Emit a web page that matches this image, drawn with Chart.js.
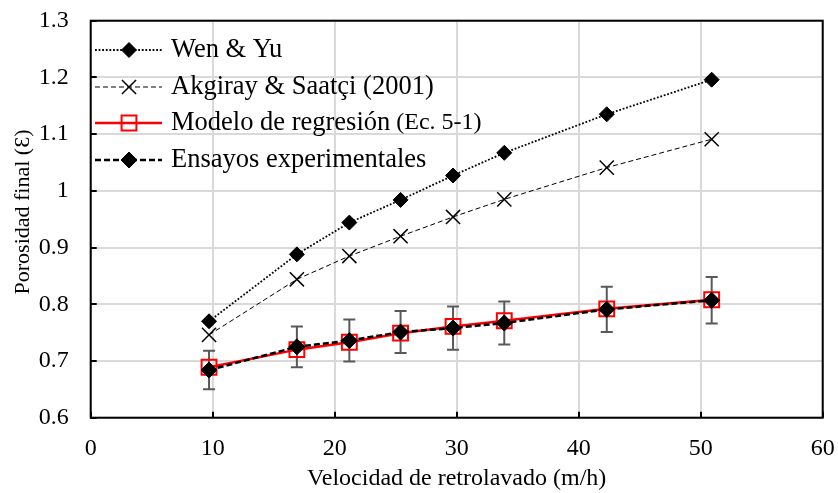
<!DOCTYPE html>
<html><head><meta charset="utf-8">
<script src="https://cdn.jsdelivr.net/npm/chart.js@4.4.0/dist/chart.umd.min.js"></script>
<style>html,body{margin:0;padding:0;background:#fff}canvas{display:block}</style>
</head><body>
<canvas id="c" width="838" height="493"></canvas>
<script>
const velocidad = [9.7, 16.9, 21.2, 25.4, 29.7, 33.9, 42.3, 50.9];
const wenYu = [0.770, 0.888, 0.944, 0.984, 1.027, 1.067, 1.135, 1.196];
const akgiray = [0.746, 0.844, 0.885, 0.920, 0.954, 0.985, 1.041, 1.091];
const modelo = [0.689, 0.720, 0.733, 0.749, 0.761, 0.771, 0.792, 0.808];
const ensayos = [0.684, 0.725, 0.736, 0.751, 0.758, 0.767, 0.791, 0.807];
const ensayosError = [0.034, 0.036, 0.037, 0.037, 0.038, 0.038, 0.040, 0.041];
const xTicks = [0, 10, 20, 30, 40, 50, 60];
const yTicks = [0.6, 0.7, 0.8, 0.9, 1.0, 1.1, 1.2, 1.3];
const legendLabels = ['Wen & Yu', 'Akgiray & Saatçi (2001)', 'Modelo de regresión', 'Ensayos experimentales'];
const legendSuffix = ['', '', ' (Ec. 5-1)', ''];
const xTitle = 'Velocidad de retrolavado (m/h)';
const yTitle = 'Porosidad final (Ɛ)';

const SERIF = '"Liberation Serif", "Times New Roman", serif';
const pts = a => a.map((v, i) => ({x: velocidad[i], y: v}));

const seriesStyles = [
  {data: wenYu, borderColor: '#000', borderWidth: 1.8, borderDash: [1.8, 1.8], pointStyle: 'rectRot', pointRadius: 7.5, pointBackgroundColor: '#000', pointBorderColor: '#000', pointBorderWidth: 1, order: 2},
  {data: akgiray, borderColor: '#000', borderWidth: 1, borderDash: [5, 3], pointStyle: 'crossRot', pointRadius: 10, pointBackgroundColor: '#000', pointBorderColor: '#000', pointBorderWidth: 1.5, order: 3},
  {data: modelo, borderColor: '#ff0000', borderWidth: 2.5, borderDash: [], pointStyle: 'rect', pointRadius: 10.5, pointBackgroundColor: 'rgba(255,255,255,0)', pointBorderColor: '#ff0000', pointBorderWidth: 2, order: 1},
  {data: ensayos, borderColor: '#000', borderWidth: 2.5, borderDash: [6, 3], pointStyle: 'rectRot', pointRadius: 8, pointBackgroundColor: '#000', pointBorderColor: '#000', pointBorderWidth: 1, order: 0}
];

const datasets = seriesStyles.map((s, i) => Object.assign({}, s, {
  label: legendLabels[i] + legendSuffix[i],
  data: pts(s.data),
  showLine: true,
  fill: false,
  tension: 0,
  pointHoverRadius: s.pointRadius
}));

const decorPlugin = {
  id: 'decor',
  beforeDatasetsDraw(chart) {
    const {ctx, scales: {x, y}} = chart;
    ctx.save();
    ctx.strokeStyle = '#595959';
    ctx.lineWidth = 2;
    ensayos.forEach((v, i) => {
      const px = x.getPixelForValue(velocidad[i]);
      const top = y.getPixelForValue(v + ensayosError[i]);
      const bot = y.getPixelForValue(v - ensayosError[i]);
      ctx.beginPath();
      ctx.moveTo(px, top); ctx.lineTo(px, bot);
      ctx.moveTo(px - 6, top); ctx.lineTo(px + 6, top);
      ctx.moveTo(px - 6, bot); ctx.lineTo(px + 6, bot);
      ctx.stroke();
    });
    ctx.restore();
  },
  afterDraw(chart) {
    const {ctx, chartArea: a, scales: {x, y}} = chart;
    ctx.save();
    ctx.strokeStyle = '#000';
    ctx.lineWidth = 2;
    ctx.strokeRect(a.left, a.top, a.right - a.left, a.bottom - a.top);
    ctx.beginPath();
    yTicks.forEach(v => { const py = Math.round(y.getPixelForValue(v)); ctx.moveTo(a.left, py); ctx.lineTo(a.left + 6, py); });
    xTicks.forEach(v => { const px = Math.round(x.getPixelForValue(v)); ctx.moveTo(px, a.bottom); ctx.lineTo(px, a.bottom - 6); });
    ctx.stroke();

    // y axis title
    ctx.save();
    ctx.translate(23, 212);
    ctx.rotate(-Math.PI / 2);
    ctx.fillStyle = '#000';
    ctx.textAlign = 'center';
    ctx.textBaseline = 'middle';
    ctx.font = '22px ' + SERIF;
    ctx.fillText(yTitle, 0, 0);
    ctx.restore();

    // legend
    const rows = [50, 87, 123, 160];
    const x0 = 95, x1 = 162, xm = 129, xt = 171;
    rows.forEach((ry, i) => {
      const ds = chart.data.datasets[i];
      ctx.save();
      ctx.strokeStyle = ds.borderColor;
      ctx.lineWidth = ds.borderWidth;
      ctx.setLineDash(ds.borderDash);
      ctx.beginPath(); ctx.moveTo(x0, ry); ctx.lineTo(x1, ry); ctx.stroke();
      ctx.setLineDash([]);
      ctx.fillStyle = ds.pointBackgroundColor;
      ctx.strokeStyle = ds.pointBorderColor;
      ctx.lineWidth = ds.pointBorderWidth;
      Chart.helpers.drawPoint(ctx, {pointStyle: ds.pointStyle, rotation: 0, radius: ds.pointRadius, borderWidth: ds.pointBorderWidth}, xm, ry);
      ctx.restore();
      ctx.fillStyle = '#000';
      ctx.textBaseline = 'middle';
      ctx.textAlign = 'left';
      ctx.font = '26.5px ' + SERIF;
      ctx.fillText(legendLabels[i], xt, ry);
      if (legendSuffix[i]) {
        const w = ctx.measureText(legendLabels[i]).width;
        ctx.font = '24px ' + SERIF;
        ctx.fillText(legendSuffix[i], xt + w, ry);
      }
    });
    ctx.restore();
  }
};

new Chart(document.getElementById('c'), {
  type: 'scatter',
  data: {datasets},
  plugins: [decorPlugin],
  options: {
    responsive: false,
    devicePixelRatio: 1,
    animation: false,
    events: [],
    layout: {padding: {left: 0, right: 15.3, top: 20.7, bottom: 0}},
    plugins: {legend: {display: false}, tooltip: {enabled: false}},
    scales: {
      x: {
        type: 'linear', min: 0, max: 60,
        afterFit: s => { s.height = 75.3; s.paddingLeft = 0; s.paddingRight = 0; },
        afterBuildTicks: s => { s.ticks = xTicks.map(v => ({value: v})); },
        grid: {color: '#d9d9d9', lineWidth: 2, drawTicks: false},
        border: {display: false},
        ticks: {color: '#000', font: {family: SERIF, size: 24}, padding: 16.5, maxRotation: 0},
        title: {display: true, text: xTitle, color: '#000', font: {family: SERIF, size: 24}, padding: {top: 0, bottom: 0}}
      },
      y: {
        type: 'linear', min: 0.6, max: 1.3,
        afterFit: s => { s.width = 90.7; s.paddingTop = 0; s.paddingBottom = 0; },
        afterBuildTicks: s => { s.ticks = yTicks.map(v => ({value: v})); },
        grid: {color: '#d9d9d9', lineWidth: 2, drawTicks: false},
        border: {display: false},
        ticks: {color: '#000', font: {family: SERIF, size: 24}, padding: 22, callback: v => String(Number(v.toFixed(1)))},
        title: {display: false}
      }
    }
  }
});
</script>
</body></html>
